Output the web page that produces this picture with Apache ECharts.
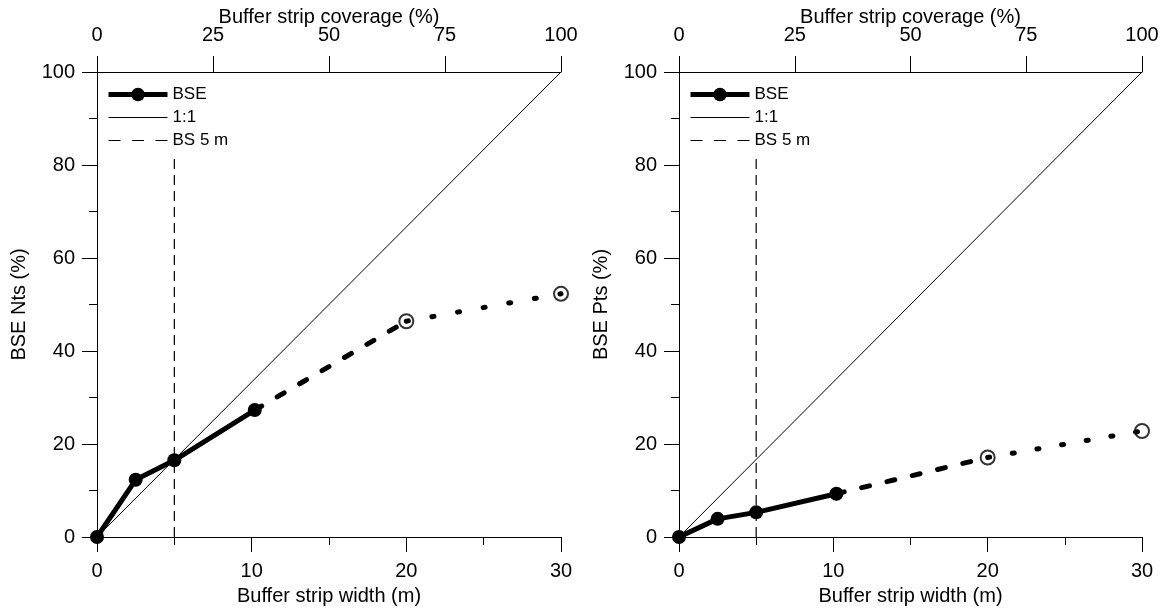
<!DOCTYPE html>
<html>
<head>
<meta charset="utf-8">
<script src="https://cdn.jsdelivr.net/npm/echarts@6/dist/echarts.min.js"></script>
<style>html,body{margin:0;padding:0;background:#fff;}#c{width:1169px;height:610px;}</style>
</head>
<body>
<div id="c"></div>
<script>
// ---- data ----
const widthM = [0, 2.5, 5, 10.2, 20, 30];          // buffer strip width (m)
const bseNts = [0, 12.3, 16.5, 27.3, 46.4, 52.3];  // BSE Nts (%)
const bsePts = [0, 3.9, 5.3, 9.3, 17.1, 22.8];     // BSE Pts (%)
const oneToOne = [[0, 0], [30, 100]];              // 1:1 line (width vs coverage)
const bs5m = [[5, 0], [5, 81.7]];                  // BS 5 m reference
const coverageTicks = [0, 25, 50, 75, 100];
const yTitles = ['BSE Nts (%)', 'BSE Pts (%)'];

const FONT = 'Liberation Sans, Arial, sans-serif';
const FS = 20;
const chart = echarts.init(document.getElementById('c'));

function pairs(ys, from, to) {
  const out = [];
  for (let i = from; i <= to; i++) out.push([widthM[i], ys[i]]);
  return out;
}

const grids = [
  {left: 97, top: 72, width: 464, height: 465, outerBoundsMode: 'none', containLabel: false},
  {left: 679, top: 72, width: 463, height: 465, outerBoundsMode: 'none', containLabel: false}
];

const xAxes = [], yAxes = [], series = [], legends = [];
[bseNts, bsePts].forEach((ys, g) => {
  xAxes.push({
    type: 'value', gridIndex: g, position: 'bottom', min: 0, max: 30, interval: 10,
    name: 'Buffer strip width (m)', nameLocation: 'middle', nameGap: 49, nameMoveOverlap: false,
    nameTextStyle: {fontFamily: FONT, fontSize: FS, color: '#000'},
    axisLine: {lineStyle: {color: '#000', width: 1}},
    axisTick: {length: 15, lineStyle: {color: '#000'}},
    minorTick: {show: true, splitNumber: 2, length: 8, lineStyle: {color: '#000'}},
    axisLabel: {fontFamily: FONT, fontSize: FS, color: '#000', margin: 24},
    splitLine: {show: false}
  });
  xAxes.push({
    type: 'value', gridIndex: g, position: 'top', min: 0, max: 100, interval: 25,
    name: 'Buffer strip coverage (%)', nameLocation: 'middle', nameGap: 45, nameMoveOverlap: false,
    nameTextStyle: {fontFamily: FONT, fontSize: FS, color: '#000'},
    axisLine: {lineStyle: {color: '#000', width: 1}},
    axisTick: {length: 16, lineStyle: {color: '#000'}},
    axisLabel: {fontFamily: FONT, fontSize: FS, color: '#000', margin: 27,
      formatter: v => coverageTicks.includes(v) ? String(v) : ''},
    splitLine: {show: false}
  });
  yAxes.push({
    type: 'value', gridIndex: g, min: 0, max: 100, interval: 20,
    name: yTitles[g], nameLocation: 'middle', nameGap: 68, nameRotate: 90, nameMoveOverlap: false,
    nameTextStyle: {fontFamily: FONT, fontSize: FS, color: '#000'},
    axisLine: {show: true, lineStyle: {color: '#000', width: 1}},
    axisTick: {show: true, length: 15, lineStyle: {color: '#000'}},
    minorTick: {show: true, splitNumber: 2, length: 8, lineStyle: {color: '#000'}},
    axisLabel: {fontFamily: FONT, fontSize: FS, color: '#000', margin: 22},
    splitLine: {show: false}
  });
  const xi = g * 2, yi = g;
  series.push({
    name: '1:1', type: 'line', xAxisIndex: xi, yAxisIndex: yi, data: oneToOne,
    symbol: 'none', lineStyle: {color: '#000', width: 1}, itemStyle: {color: '#000', opacity: 0},
    silent: true, z: 1
  });
  series.push({
    name: 'BS 5 m', type: 'line', xAxisIndex: xi, yAxisIndex: yi, data: bs5m,
    symbol: 'none', lineStyle: {color: '#000', width: 1.2, type: [10, 6]}, itemStyle: {color: '#000', opacity: 0},
    silent: true, z: 1
  });
  series.push({
    name: 'ext-dash', type: 'line', xAxisIndex: xi, yAxisIndex: yi, data: pairs(ys, 3, 4),
    symbol: 'none', lineStyle: {color: '#000', width: 5, type: [8, 18], cap: 'round'},
    silent: true, z: 2
  });
  series.push({
    name: 'ext-dot', type: 'line', xAxisIndex: xi, yAxisIndex: yi, data: pairs(ys, 4, 5),
    symbol: 'none', lineStyle: {color: '#000', width: 5, type: g === 1 ? [2, 23] : [2, 24], cap: 'round'},
    silent: true, z: 2
  });
  series.push({
    name: 'ext-pts', type: 'scatter', xAxisIndex: xi, yAxisIndex: yi, data: pairs(ys, 4, 5),
    symbol: 'circle', symbolSize: 14,
    itemStyle: {color: 'rgba(0,0,0,0)', borderColor: '#000', borderWidth: 2},
    silent: true, z: 3
  });
  series.push({
    name: 'BSE', type: 'line', xAxisIndex: xi, yAxisIndex: yi, data: pairs(ys, 0, 3),
    symbol: 'circle', symbolSize: 14, showSymbol: true,
    lineStyle: {color: '#000', width: 5}, itemStyle: {color: '#000'},
    silent: true, z: 4
  });
  legends.push({
    orient: 'vertical', left: grids[g].left + 9, top: 86, padding: 0,
    itemWidth: 59, itemHeight: 17, itemGap: 6,
    data: [
      {name: 'BSE', lineStyle: {width: 5}},
      {name: '1:1', lineStyle: {width: 1}, itemStyle: {opacity: 0}},
      {name: 'BS 5 m', lineStyle: {width: 1.2, type: [12, 11.5]}, itemStyle: {opacity: 0}}
    ],
    selectedMode: false,
    textStyle: {fontFamily: FONT, fontSize: 17, color: '#000', lineHeight: 17, padding: [0, 0, 0, 0]}
  });
});

chart.setOption({
  backgroundColor: '#fff',
  animation: false,
  grid: grids,
  xAxis: xAxes,
  yAxis: yAxes,
  legend: legends,
  series: series
});
</script>
</body>
</html>
